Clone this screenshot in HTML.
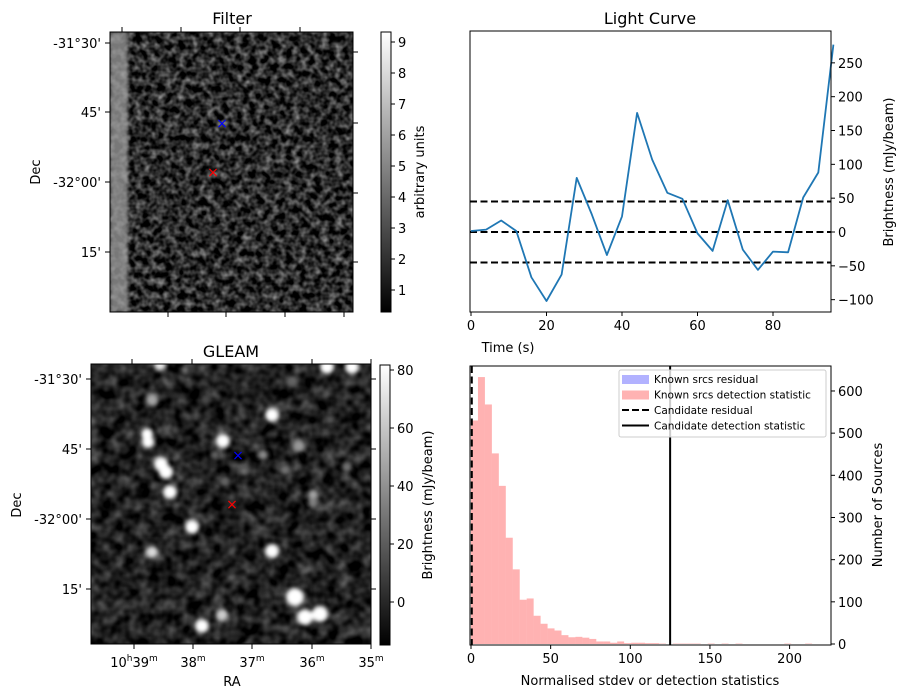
<!DOCTYPE html>
<html><head><meta charset="utf-8">
<style>
html,body{margin:0;padding:0;background:#fff;}
svg{display:block;font-family:"DejaVu Sans","Liberation Sans",sans-serif;}
</style></head>
<body>
<svg id="fig" width="907" height="699" viewBox="0 0 907 699" xmlns="http://www.w3.org/2000/svg">
<defs>
  <filter id="grayNoiseF" x="0" y="0" width="100%" height="100%" color-interpolation-filters="sRGB">
    <feTurbulence type="fractalNoise" baseFrequency="0.14" numOctaves="2" seed="7" result="t"/>
    <feColorMatrix in="t" type="matrix" values="1 0 0 0 0  1 0 0 0 0  1 0 0 0 0  0 0 0 0 1" result="g"/>
    <feComponentTransfer in="g">
      <feFuncR type="linear" slope="1.3" intercept="-0.42"/>
      <feFuncG type="linear" slope="1.3" intercept="-0.42"/>
      <feFuncB type="linear" slope="1.3" intercept="-0.42"/>
    </feComponentTransfer>
  </filter>
  <filter id="grayNoiseG" x="0" y="0" width="100%" height="100%" color-interpolation-filters="sRGB">
    <feTurbulence type="fractalNoise" baseFrequency="0.08" numOctaves="2" seed="11" result="t"/>
    <feColorMatrix in="t" type="matrix" values="1 0 0 0 0  1 0 0 0 0  1 0 0 0 0  0 0 0 0 1" result="g"/>
    <feComponentTransfer in="g">
      <feFuncR type="linear" slope="1.0" intercept="-0.28"/>
      <feFuncG type="linear" slope="1.0" intercept="-0.28"/>
      <feFuncB type="linear" slope="1.0" intercept="-0.28"/>
    </feComponentTransfer>
  </filter>
  <filter id="blobBlur" x="-50%" y="-50%" width="200%" height="200%" color-interpolation-filters="sRGB"><feGaussianBlur stdDeviation="2"/></filter>
  <filter id="stripBlur" x="-20%" y="-5%" width="140%" height="110%" color-interpolation-filters="sRGB"><feGaussianBlur stdDeviation="1.5"/></filter>
  <linearGradient id="cbGrad" x1="0" y1="1" x2="0" y2="0">
    <stop offset="0" stop-color="#000"/><stop offset="1" stop-color="#fff"/>
  </linearGradient>
  <clipPath id="clipF"><rect x="110" y="32" width="243" height="280"/></clipPath>
  <clipPath id="clipG"><rect x="91" y="364" width="280" height="280"/></clipPath>
</defs>

<!-- FILTER IMAGE -->
<g>
  <text x="232" y="24" font-size="16" text-anchor="middle">Filter</text>
  <g clip-path="url(#clipF)">
    <rect x="110" y="32" width="243" height="280" fill="#000"/>
    <rect x="110" y="32" width="243" height="280" filter="url(#grayNoiseF)" opacity="0.75"/>
    <rect x="110" y="32" width="18" height="280" fill="#a0a0a0" opacity="0.75" filter="url(#stripBlur)"/>
  </g>
  <rect x="110" y="32" width="243" height="280" fill="none" stroke="#000" stroke-width="1"/>
  <g stroke="#000" stroke-width="1">
    <line x1="105" y1="43" x2="110" y2="43"/><line x1="105" y1="112" x2="110" y2="112"/><line x1="105" y1="182" x2="110" y2="182"/><line x1="105" y1="252" x2="110" y2="252"/>
    <line x1="122" y1="27" x2="122" y2="32"/><line x1="181" y1="27" x2="181" y2="32"/><line x1="240" y1="27" x2="240" y2="32"/><line x1="300" y1="27" x2="300" y2="32"/>
    <line x1="168" y1="312" x2="168" y2="317"/><line x1="226" y1="312" x2="226" y2="317"/><line x1="285" y1="312" x2="285" y2="317"/><line x1="344" y1="312" x2="344" y2="317"/>
    <line x1="353" y1="52" x2="358" y2="52"/><line x1="353" y1="123" x2="358" y2="123"/><line x1="353" y1="193" x2="358" y2="193"/><line x1="353" y1="262" x2="358" y2="262"/>
  </g>
  <g font-size="13" text-anchor="end">
    <text x="101" y="48">-31°30'</text><text x="101" y="117">45'</text><text x="101" y="187">-32°00'</text><text x="101" y="257">15'</text>
  </g>
  <text transform="translate(40,172) rotate(-90)" font-size="13" text-anchor="middle">Dec</text>
  <g font-size="14">
    <text x="222" y="128" fill="#0000ff" text-anchor="middle">×</text>
    <text x="213" y="177" fill="#ff0000" text-anchor="middle">×</text>
  </g>
  <rect x="381" y="32" width="10" height="280" fill="url(#cbGrad)" stroke="#000" stroke-width="1"/>
  <g id="cbF" font-size="13"></g>
  <text transform="translate(424,172) rotate(-90)" font-size="13" text-anchor="middle">arbitrary units</text>
</g>

<!-- GLEAM IMAGE -->
<g>
  <text x="231" y="357" font-size="16" text-anchor="middle">GLEAM</text>
  <g clip-path="url(#clipG)">
    <rect x="91" y="364" width="280" height="280" fill="#000"/>
    <rect x="91" y="364" width="280" height="280" filter="url(#grayNoiseG)" opacity="0.6"/>
    <g id="blobs" filter="url(#blobBlur)"></g>
  </g>
  <rect x="91" y="364" width="280" height="280" fill="none" stroke="#000" stroke-width="1"/>
  <g stroke="#000" stroke-width="1">
    <line x1="86" y1="379" x2="91" y2="379"/><line x1="86" y1="449" x2="91" y2="449"/><line x1="86" y1="519" x2="91" y2="519"/><line x1="86" y1="589" x2="91" y2="589"/>
    <line x1="371" y1="379" x2="376" y2="379"/><line x1="371" y1="449" x2="376" y2="449"/><line x1="371" y1="519" x2="376" y2="519"/><line x1="371" y1="589" x2="376" y2="589"/>
    <line x1="134" y1="644" x2="134" y2="649"/><line x1="193" y1="644" x2="193" y2="649"/><line x1="252" y1="644" x2="252" y2="649"/><line x1="312" y1="644" x2="312" y2="649"/><line x1="371" y1="644" x2="371" y2="649"/>
    <line x1="132" y1="359" x2="132" y2="364"/><line x1="192" y1="359" x2="192" y2="364"/><line x1="312" y1="359" x2="312" y2="364"/><line x1="371" y1="359" x2="371" y2="364"/>
  </g>
  <g font-size="13" text-anchor="end">
    <text x="82" y="384">-31°30'</text><text x="82" y="454">45'</text><text x="82" y="524">-32°00'</text><text x="82" y="594">15'</text>
  </g>
  <text transform="translate(21,505) rotate(-90)" font-size="13" text-anchor="middle">Dec</text>
  <g font-size="13" text-anchor="middle">
    <text x="134" y="667">10<tspan font-size="9" dy="-6">h</tspan><tspan dy="6">39</tspan><tspan font-size="9" dy="-6">m</tspan></text>
    <text x="193" y="667">38<tspan font-size="9" dy="-6">m</tspan></text>
    <text x="252" y="667">37<tspan font-size="9" dy="-6">m</tspan></text>
    <text x="312" y="667">36<tspan font-size="9" dy="-6">m</tspan></text>
    <text x="371" y="667">35<tspan font-size="9" dy="-6">m</tspan></text>
  </g>
  <text x="232" y="686" font-size="13" text-anchor="middle">RA</text>
  <g font-size="14">
    <text x="238" y="460" fill="#0000ff" text-anchor="middle">×</text>
    <text x="232" y="509" fill="#ff0000" text-anchor="middle">×</text>
  </g>
  <rect x="380" y="365" width="10" height="280" fill="url(#cbGrad)" stroke="#000" stroke-width="1"/>
  <g id="cbG" font-size="13"></g>
  <text transform="translate(432,505) rotate(-90)" font-size="13" text-anchor="middle">Brightness (mJy/beam)</text>
</g>

<!-- LIGHT CURVE -->
<g id="lc">
  <text x="650" y="24" font-size="16" text-anchor="middle">Light Curve</text>
  <text x="508" y="352" font-size="13" text-anchor="middle">Time (s)</text>
  <text transform="translate(893,172) rotate(-90)" font-size="13" text-anchor="middle">Brightness (mJy/beam)</text>
</g>

<!-- HISTOGRAM -->
<g id="hist">
  <text x="650" y="685" font-size="13" text-anchor="middle">Normalised stdev or detection statistics</text>
  <text transform="translate(882,505) rotate(-90)" font-size="13" text-anchor="middle">Number of Sources</text>
</g>
</svg>

<script>
const NS='http://www.w3.org/2000/svg';
function mk(tag,attrs,parent){const e=document.createElementNS(NS,tag);for(const k in attrs)e.setAttribute(k,attrs[k]);parent.appendChild(e);return e;}

// ---- light curve data
const lcTimes=[0,4,8,12,16,20,24,28,32,36,40,44,48,52,56,60,64,68,72,76,80,84,88,92,96];
const lcValues=[1.5,3.5,17,1.5,-67,-102,-63,80,26,-34,23,176,107,58,49,-2,-28,47,-26,-56,-29,-30,51,88,277];
const lcThresholds=[45,0,-45];
const lcXTicks=[0,20,40,60,80];
const lcYTicks=[-100,-50,0,50,100,150,200,250];

// ---- histogram data
const histBinStart=0;
const histBinWidth=4.37;
const histCounts=[530,633,568,452,375,252,177,105,108,67,48,37,32,21,16,17,15,12,6,6,3,6,2,3,3,2,2,1,0,1,1,1,1,0,1,0,1,0,1,0,0,0,0,0,0,1,0,0,1,0];
const candResidual=0.5;
const candDetection=125;
const histXTicks=[0,50,100,150,200];
const histYTicks=[0,100,200,300,400,500,600];

// ---- colorbar ticks
const cbFTicks=[1,2,3,4,5,6,7,8,9];
const cbGTicks=[0,20,40,60,80];

// ---- GLEAM sources: [x, y, radius, brightness]
const gleamSources=[[160,365,6,0.9],[185,370,4,0.45],[152,400,6,0.65],[272,415,7,1],[147,434,6,1],[148,442,6,1],[223,441,7,1],[299,446,6,0.6],[263,455,5,0.55],[161,464,7,1],[166,472,7,1],[170,492,7,1],[244,471,4,0.45],[285,470,5,0.45],[347,467,5,0.45],[225,481,4,0.4],[313,495,5,0.65],[313,503,5,0.5],[192,527,7,1],[152,552,6,0.85],[272,551,7,1],[295,597,9,1],[305,617,8,1],[320,614,8,1],[222,615,6,0.8],[202,626,7,1],[327,367,7,1],[352,367,7,1],[293,381,5,0.4],[206,400,4,0.3],[330,420,4,0.35],[240,600,4,0.3],[215,455,4,0.4]];

// light curve scales
const LC={x0:470,x1:831,y0:31,y1:312};
const lcX=t=>471+t*3.775;
const lcY=v=>232-v*0.6766;
// hist scales
const H={x0:470,x1:831,y0:366,y1:645};
const hX=v=>471+v*1.593;
const hY=c=>644-c*0.4217;

const lc=document.getElementById('lc');
for(const th of lcThresholds){
  const l=mk('line',{x1:LC.x0,x2:LC.x1,y1:lcY(th),y2:lcY(th),stroke:'#000','stroke-width':2,'stroke-dasharray':'7,3.5'},lc);
  
  
}
const pts=lcTimes.map((t,i)=>lcX(t).toFixed(1)+','+lcY(lcValues[i]).toFixed(1)).join(' ');
const pl=mk('polyline',{points:pts,fill:'none',stroke:'#1f77b4','stroke-width':1.8,'stroke-linejoin':'round'},lc);


const lcBox=mk('rect',{x:LC.x0,y:LC.y0,width:LC.x1-LC.x0,height:LC.y1-LC.y0,fill:'none',stroke:'#000','stroke-width':1},lc);


for(const t of lcXTicks){
  mk('line',{x1:lcX(t),x2:lcX(t),y1:LC.y1,y2:LC.y1+4,stroke:'#000'},lc);
  const tx=mk('text',{x:lcX(t),y:LC.y1+18,'font-size':13,'text-anchor':'middle'},lc);
  tx.textContent=t;
  
  
}
for(const v of lcYTicks){
  mk('line',{x1:LC.x1,x2:LC.x1+4,y1:lcY(v),y2:lcY(v),stroke:'#000'},lc);
  const tx=mk('text',{x:LC.x1+7,y:lcY(v)+5,'font-size':13},lc);
  tx.textContent=v<0?'\u2212'+(-v):v;
  
  
}

// histogram
const hist=document.getElementById('hist');
histCounts.forEach((c,i)=>{
  if(c<=0)return;
  const a=histBinStart+i*histBinWidth;
  const r=mk('rect',{x:hX(a),y:hY(c),width:hX(a+histBinWidth)-hX(a),height:hY(0)-hY(c),fill:'#ff0000','fill-opacity':0.3},hist);
  
  
});
const cr=mk('line',{x1:hX(candResidual),x2:hX(candResidual),y1:H.y0,y2:H.y1,stroke:'#000','stroke-width':2,'stroke-dasharray':'7,3.5'},hist);


const cd=mk('line',{x1:hX(candDetection),x2:hX(candDetection),y1:H.y0,y2:H.y1,stroke:'#000','stroke-width':2},hist);


const hBox=mk('rect',{x:H.x0,y:H.y0,width:H.x1-H.x0,height:H.y1-H.y0,fill:'none',stroke:'#000','stroke-width':1},hist);


for(const t of histXTicks){
  mk('line',{x1:hX(t),x2:hX(t),y1:H.y1,y2:H.y1+4,stroke:'#000'},hist);
  const tx=mk('text',{x:hX(t),y:H.y1+18,'font-size':13,'text-anchor':'middle'},hist);
  tx.textContent=t;
  
  
}
for(const v of histYTicks){
  mk('line',{x1:H.x1,x2:H.x1+4,y1:hY(v),y2:hY(v),stroke:'#000'},hist);
  const tx=mk('text',{x:H.x1+7,y:hY(v)+5,'font-size':13},hist);
  tx.textContent=v;
  
  
}
// legend
const lg=mk('g',{},hist);


mk('rect',{x:619,y:370,width:207,height:67,rx:2,fill:'#fff','fill-opacity':0.8,stroke:'#ccc'},lg);
const legItems=[['patch','#0000ff','Known srcs residual'],['patch','#ff0000','Known srcs detection statistic'],['dash','#000','Candidate residual'],['solid','#000','Candidate detection statistic']];
legItems.forEach((it,i)=>{
  const y=379+i*15.5;
  if(it[0]==='patch') mk('rect',{x:622,y:y-4,width:27,height:9,fill:it[1],'fill-opacity':0.3},lg);
  else mk('line',{x1:622,x2:649,y1:y,y2:y,stroke:'#000','stroke-width':2,'stroke-dasharray':it[0]==='dash'?'7,3':'none'},lg);
  const tx=mk('text',{x:654,y:y+4,'font-size':10.5},lg);
  tx.textContent=it[2];
  
  
});

// colorbars
const cbF=document.getElementById('cbF');
for(const v of cbFTicks){
  const y=290-(v-1)*31;
  mk('line',{x1:391,x2:395,y1:y,y2:y,stroke:'#000'},cbF);
  const tx=mk('text',{x:398,y:y+5},cbF);tx.textContent=v;
  
  
}
const cbG=document.getElementById('cbG');
for(const v of cbGTicks){
  const y=602-v*2.9;
  mk('line',{x1:390,x2:394,y1:y,y2:y,stroke:'#000'},cbG);
  const tx=mk('text',{x:397,y:y+5},cbG);tx.textContent=v;
  
  
}
// gleam blobs
const bl=document.getElementById('blobs');
for(const s of gleamSources){
  const g=Math.round(255*s[3]);
  const c=mk('circle',{cx:s[0],cy:s[1],r:s[2],fill:`rgb(${g},${g},${g})`},bl);
  
  
}
</script>
</body></html>
